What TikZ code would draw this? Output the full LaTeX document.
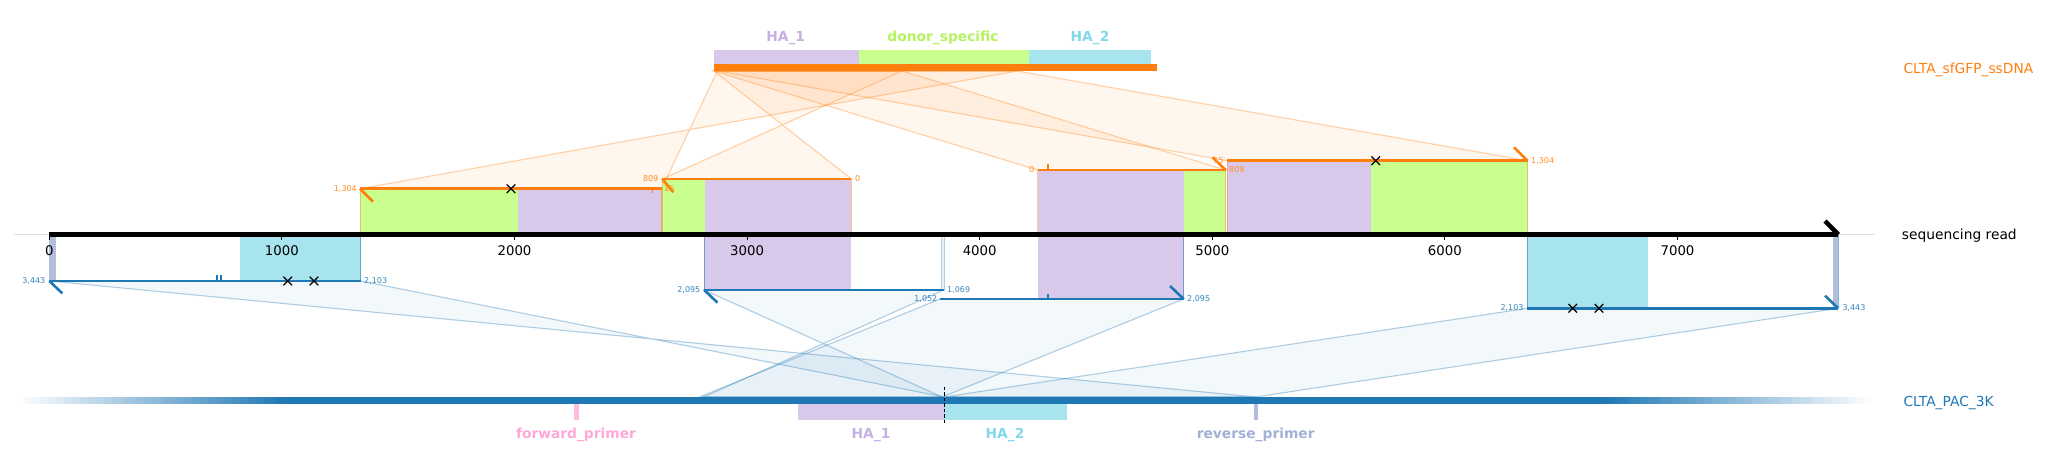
\documentclass[tikz,border=0pt]{standalone}
\usepackage{fontspec}
\setmainfont{DejaVu Sans}
\definecolor{orng}{HTML}{FF7F0E}
\definecolor{blu}{HTML}{1F77B4}
\definecolor{lav}{HTML}{D8C8EA}
\definecolor{grn}{HTML}{C8FF8E}
\definecolor{cyn}{HTML}{A8E4EE}
\definecolor{lavtxt}{HTML}{C5B0E3}
\definecolor{grntxt}{HTML}{B5F25E}
\definecolor{cyntxt}{HTML}{82D8EA}
\definecolor{pinktxt}{HTML}{FFA8D6}
\definecolor{pinkbox}{HTML}{FFBBE0}
\definecolor{rptxt}{HTML}{A2B0D6}
\definecolor{rpbox}{HTML}{B2BEDC}
\begin{document}
\begin{tikzpicture}[x=1pt,y=-1pt,
 ofan/.style={fill=orng,fill opacity=0.07,draw=orng,draw opacity=0.35,line width=1.1},
 bfan/.style={fill=blu,fill opacity=0.055,draw=blu,draw opacity=0.35,line width=1.1},
 oaln/.style={draw=orng,line width=2.6},
 baln/.style={draw=blu,line width=2.6},
 onum/.style={text=orng!90,font=\fontsize{8}{9}\selectfont,inner sep=0pt},
 bnum/.style={text=blu!90,font=\fontsize{8}{9}\selectfont,inner sep=0pt},
 ticklab/.style={font=\fontsize{13.3}{15}\selectfont,anchor=base,inner sep=0pt},
 ftlab/.style={font=\fontsize{13.8}{16}\selectfont\bfseries,anchor=base,inner sep=0pt},
 seqlab/.style={font=\fontsize{13.8}{16}\selectfont,anchor=base west,inner sep=0pt},
 oedge/.style={draw=orng,draw opacity=0.45,line width=0.8},
 bedge/.style={draw=blu,draw opacity=0.55,line width=0.8},
 smtick/.style={line width=1.4},
 xm/.pic={\draw[black,line width=1.2] (-4.3,-4.3)--(4.3,4.3) (-4.3,4.3)--(4.3,-4.3);},
]
\useasboundingbox (0,0) rectangle (2045,470);

% ---- named points ----
\coordinate (ss0) at (713.8,71);
\coordinate (ss15) at (717.3,71);
\coordinate (ss809) at (902,71);
\coordinate (ss1304) at (1017.1,71);
\coordinate (AL) at (360,188.7);   \coordinate (AR) at (661.7,188.7);
\coordinate (BL) at (662.3,179);   \coordinate (BR) at (851.4,179);
\coordinate (CL) at (1037.5,170);  \coordinate (CR) at (1225.7,170);
\coordinate (DL) at (1227.3,160.7);\coordinate (DR) at (1527.5,160.7);
\coordinate (EL) at (49.3,281);    \coordinate (ER) at (360.7,281);
\coordinate (FL) at (704.2,290);   \coordinate (FR) at (943.6,290);
\coordinate (GL) at (940,299);     \coordinate (GR) at (1183.6,299);
\coordinate (HL) at (1527.3,308.3);\coordinate (HR) at (1838.3,308.3);
\coordinate (p1052) at (699.5,397);
\coordinate (p1069) at (703.5,397);
\coordinate (p2095) at (942.1,397);
\coordinate (p2103) at (944,397);
\coordinate (p3443) at (1255.7,397);

% ---- guide line ----
\draw[gray!25,line width=0.9] (14,234.5) -- (1875,234.5);

% ---- fans ----
\path[ofan] (ss15) -- (ss1304) -- (AL) -- (AR) -- cycle;
\path[ofan] (ss0) -- (ss809) -- (BL) -- (BR) -- cycle;
\path[ofan] (ss0) -- (ss809) -- (CR) -- (CL) -- cycle;
\path[ofan] (ss15) -- (ss1304) -- (DR) -- (DL) -- cycle;
\path[bfan] (EL) -- (ER) -- (p2103) -- (p3443) -- cycle;
\path[bfan] (FL) -- (FR) -- (p1069) -- (p2095) -- cycle;
\path[bfan] (GL) -- (GR) -- (p2095) -- (p1052) -- cycle;
\path[bfan] (HL) -- (HR) -- (p3443) -- (p2103) -- cycle;

% ---- boxes above axis ----
\fill[grn] (360,188.7) rectangle (517.5,234.5);
\fill[lav] (517.5,188.7) rectangle (661.7,234.5);
\fill[grn] (662.3,179) rectangle (705,234.5);
\fill[lav] (705,179) rectangle (851.4,234.5);
\fill[lav] (1037.5,170) rectangle (1183.6,234.5);
\fill[grn] (1183.6,170) rectangle (1225.7,234.5);
\fill[lav] (1227.3,160.7) rectangle (1370.7,234.5);
\fill[grn] (1370.7,160.7) rectangle (1527.5,234.5);
\draw[oedge] (360,188.7) -- (360,234.5) (661.7,188.7) -- (661.7,234.5)
  (662.3,179) -- (662.3,234.5) (851.4,179) -- (851.4,234.5)
  (1037.5,170) -- (1037.5,234.5) (1225.7,170) -- (1225.7,234.5)
  (1227.3,160.7) -- (1227.3,234.5) (1527.5,160.7) -- (1527.5,234.5);

% ---- boxes below axis ----
\fill[rpbox] (49.3,234.5) rectangle (56,281);
\fill[cyn] (240,234.5) rectangle (360.7,281);
\fill[lav] (704.2,234.5) rectangle (851.4,290);
\filldraw[fill=blu!10,draw=blu!35,line width=0.6] (941,234.5) rectangle (944,290);
\fill[lav] (1037.5,234.5) rectangle (1183.6,299);
\fill[cyn] (1527.3,234.5) rectangle (1648,308.3);
\fill[rpbox] (1833,234.5) rectangle (1838.3,308.3);
\draw[bedge] (360.7,234.5) -- (360.7,281) (704.2,234.5) -- (704.2,290)
  (1183.6,234.5) -- (1183.6,299) (1527.3,234.5) -- (1527.3,308.3)
  (1838.3,234.5) -- (1838.3,308.3);

% ---- sequencing read axis ----
\draw[black,line width=4.5] (49.3,234.5) -- (1838.3,234.5);
\draw[black,line width=4.5] (1838.3,234.5) -- (1825,221);
\foreach \k in {0,...,7}{
  \pgfmathsetmacro\xx{49.3+232.6*\k}
  \draw[black,line width=0.9] (\xx,236.5) -- (\xx,240);
  \node[ticklab] (tk\k) at (\xx,256) {\the\numexpr\k*1000\relax};
}

% ---- orange alignments ----
\draw[oaln] (AL) -- (AR);
\draw[oaln] (BL) -- (BR);
\draw[oaln] (CL) -- (CR);
\draw[oaln] (DL) -- (DR);
\draw[oaln] (AL) -- (373,201.7);
\draw[oaln] (BL) -- (673.3,192.3);
\draw[oaln] (CR) -- (1212.5,157.3);
\draw[oaln] (DR) -- (1514,147.3);
\draw[orng,smtick] (652.3,188.7) -- (652.3,193.3);
\draw[orng,smtick] (1048,170) -- (1048,164);
\pic at (511,188.7) {xm};
\pic at (1375.7,160.7) {xm};
\node[onum,anchor=east] (la1) at (357,188.7) {1,304};
\node[onum,anchor=west] (la2) at (664,189) {15};
\node[onum,anchor=east] (lb1) at (658.5,179) {809};
\node[onum,anchor=west] (lb2) at (855,179) {0};
\node[onum,anchor=east] (lc1) at (1034.5,170) {0};
\node[onum,anchor=west] (lc2) at (1229,170) {809};
\node[onum,anchor=east] (ld1) at (1224,160.5) {15};
\node[onum,anchor=west] (ld2) at (1531,160.7) {1,304};

% ---- blue alignments ----
\draw[baln] (EL) -- (ER);
\draw[baln] (FL) -- (FR);
\draw[baln] (GL) -- (GR);
\draw[baln] (HL) -- (HR);
\draw[baln] (EL) -- (62.3,293.3);
\draw[baln] (FL) -- (717.5,302.7);
\draw[baln] (GR) -- (1170,286);
\draw[baln] (HR) -- (1825,295.7);
\draw[blu,smtick] (217,281) -- (217,275.3) (221,281) -- (221,275.3);
\draw[blu,smtick] (1048,299) -- (1048,294);
\pic at (287.7,281) {xm};
\pic at (314,281) {xm};
\pic at (1572.7,308.3) {xm};
\pic at (1599,308.3) {xm};
\node[bnum,anchor=east] (le1) at (45.5,281) {3,443};
\node[bnum,anchor=west] (le2) at (364,281) {2,103};
\node[bnum,anchor=east] (lf1) at (700.5,290) {2,095};
\node[bnum,anchor=west] (lf2) at (947,290) {1,069};
\node[bnum,anchor=east] (lg1) at (937.5,299) {1,052};
\node[bnum,anchor=west] (lg2) at (1187,299) {2,095};
\node[bnum,anchor=east] (lh1) at (1523.7,308.3) {2,103};
\node[bnum,anchor=west] (lh2) at (1842.3,308.3) {3,443};

% ---- top ssDNA ----
\fill[lav] (713.8,50) rectangle (859,64);
\fill[grn] (859,50) rectangle (1029,64);
\fill[cyn] (1029,50) rectangle (1151,64);
\fill[orng] (713.8,64) rectangle (1157,71);
\node[ftlab,text=lavtxt] (tha1) at (785.7,41.7) {HA\_1};
\node[ftlab,text=grntxt] (tdon) at (943,41.7) {donor\_specific};
\node[ftlab,text=cyntxt] (tha2) at (1090,41.7) {HA\_2};

% ---- bottom plasmid (faded ends) ----
\foreach \i in {0,...,59}{
  \pgfmathsetmacro\pc{(\i+0.5)*100/60}
  \pgfmathsetmacro\xa{18+\i*268/60}
  \pgfmathsetmacro\xb{1872-(\i+1)*268/60}
  \fill[blu!\pc!white] (\xa,396.7) rectangle ++(4.8,7.3);
  \fill[blu!\pc!white] (\xb,396.7) rectangle ++(4.8,7.3);
}
\fill[blu] (285.5,396.7) rectangle (1604.5,404);
\fill[lav] (798,404) rectangle (944.2,420);
\fill[cyn] (944.2,404) rectangle (1067,420);
\fill[pinkbox] (574,404) rectangle (578.6,420);
\fill[rpbox] (1253.5,404) rectangle (1258,420);
\draw[black,line width=1,dash pattern=on 3.5pt off 2pt] (944.2,386.7) -- (944.2,424);
\node[ftlab,text=pinktxt] (tfp) at (576,438.3) {forward\_primer};
\node[ftlab,text=lavtxt] (tbh1) at (871,438.3) {HA\_1};
\node[ftlab,text=cyntxt] (tbh2) at (1005,438.3) {HA\_2};
\node[ftlab,text=rptxt] (trp) at (1255.7,438.3) {reverse\_primer};

% ---- track names ----
\node[seqlab,text=orng] (nss) at (1903.3,73.3) {CLTA\_sfGFP\_ssDNA};
\node[seqlab,text=black] (nrd) at (1901.7,239.3) {sequencing read};
\node[seqlab,text=blu] (npl) at (1903.3,406) {CLTA\_PAC\_3K};
\end{tikzpicture}
\end{document}
